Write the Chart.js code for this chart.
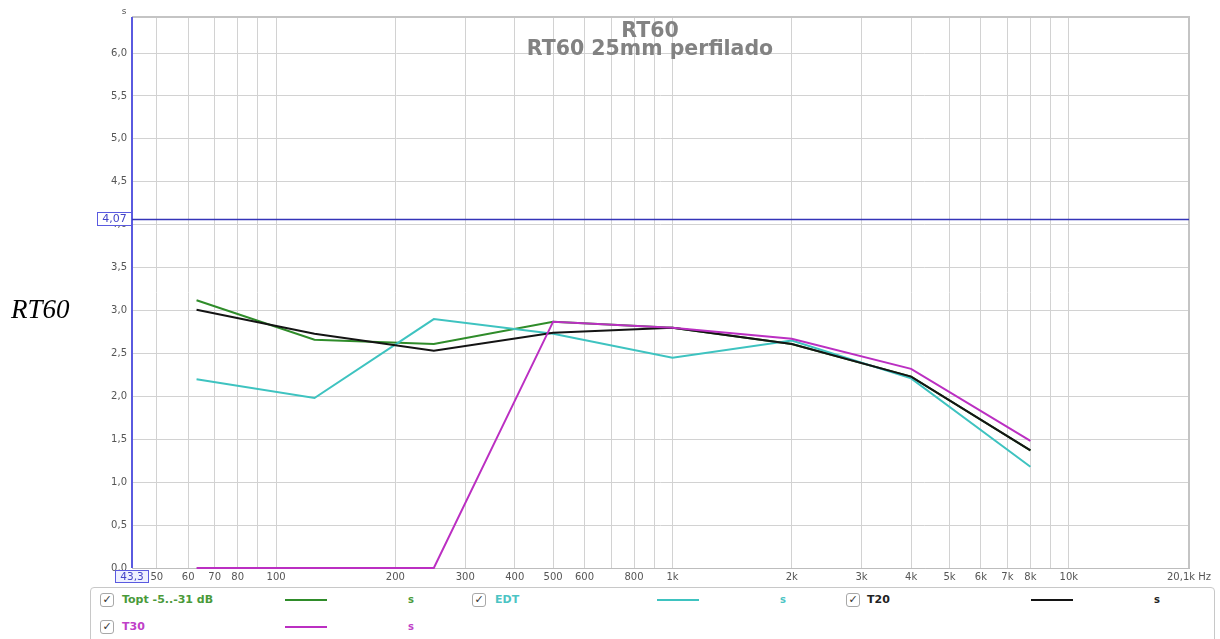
<!DOCTYPE html>
<html>
<head>
<meta charset="utf-8">
<script src="https://cdn.jsdelivr.net/npm/chart.js@4.4.1/dist/chart.umd.min.js"></script>
<style>
  html,body{margin:0;padding:0;background:#fff;}
  body{width:1220px;height:639px;overflow:hidden;position:relative;font-family:"DejaVu Sans",sans-serif;}
  #c{position:absolute;left:0;top:0;}
  #side{position:absolute;left:11px;top:294px;font:italic 27px "Liberation Serif","Times New Roman",serif;color:#000;line-height:30px;}
  #legendBox{position:absolute;left:90px;top:587px;width:1125px;height:70px;border:1px solid #c8c8c8;border-radius:4px;box-sizing:border-box;}
  .cb{position:absolute;width:14px;height:14px;border:1px solid #a8a8a8;border-radius:3px;box-sizing:border-box;font-size:11px;line-height:12px;text-align:center;color:#333;background:#fff;}
  .lt{position:absolute;font-weight:bold;font-size:11px;line-height:14px;white-space:nowrap;}
  .ls{position:absolute;height:2px;}
  .lu{position:absolute;font-weight:bold;font-size:10px;line-height:14px;}
</style>
</head>
<body>
<canvas id="c" width="1220" height="585"></canvas>
<div id="side">RT60</div>
<div id="legendBox"></div>
<div id="legend"></div>
<script>
// ---- data ----
const bandFreqs = [63, 125, 250, 500, 1000, 2000, 4000, 8000];
const toptValues = [3.12, 2.66, 2.61, 2.87, 2.80, 2.61, 2.23, 1.37];
const edtValues  = [2.20, 1.98, 2.90, 2.73, 2.45, 2.65, 2.21, 1.18];
const t20Values  = [3.01, 2.73, 2.53, 2.74, 2.80, 2.61, 2.23, 1.37];
const t30Values  = [0.00, 0.00, 0.00, 2.87, 2.80, 2.67, 2.32, 1.48];

const seriesNames = ["Topt -5..-31 dB", "EDT", "T20", "T30"];
const seriesUnits = ["s", "s", "s", "s"];

const xGridValues = [50,60,70,80,90,100,200,300,400,500,600,700,800,900,1000,2000,3000,4000,5000,6000,7000,8000,9000,10000,20100];
const xLabelValues = [50,60,70,80,100,200,300,400,500,600,800,1000,2000,3000,4000,5000,6000,7000,8000,10000,20100];
const xLabelTexts  = ["50","60","70","80","100","200","300","400","500","600","800","1k","2k","3k","4k","5k","6k","7k","8k","10k","20,1k Hz"];
const yTickValues = [0,0.5,1,1.5,2,2.5,3,3.5,4,4.5,5,5.5,6];

const xMin = 43.3, xMax = 20100, yMin = 0, yMax = 6.42;
const cursorFreq = 43.3, cursorFreqLabel = "43,3";
const cursorValue = 4.07, cursorValueLabel = "4,07";
const titleLines = ["RT60", "RT60 25mm perfilado"];
const yUnit = "s";

// ---- style ----
const colors = ["#2f8c2a", "#3ec3c0", "#141414", "#bb2fc2"];
const textColors = ["#4a9a3a", "#4cc4c4", "#222222", "#c040c8"];

const pts = vals => bandFreqs.map((f,i)=>({x:f, y:vals[i]}));
const allVals = [toptValues, edtValues, t20Values, t30Values];
const drawOrder = [4,3,2,1];

const overlay = {
  id:'overlay',
  beforeDatasetsDraw(chart){
    const ctx = chart.ctx;
    ctx.save();
    ctx.fillStyle = '#828282';
    ctx.font = 'bold 20.5px "DejaVu Sans"';
    ctx.textAlign = 'center';
    ctx.textBaseline = 'alphabetic';
    ctx.fillText(titleLines[0], 650, 37);
    ctx.fillText(titleLines[1], 650, 55);
    ctx.restore();
  },
  afterDraw(chart){
    const {ctx, chartArea:a, scales:{x,y}} = chart;
    ctx.save();
    // top/right frame
    ctx.strokeStyle = '#c4c4c4'; ctx.lineWidth = 2;
    ctx.beginPath(); ctx.moveTo(a.left, a.top); ctx.lineTo(a.right, a.top); ctx.lineTo(a.right, a.bottom); ctx.stroke();
    // vertical cursor line
    const cx = Math.round(x.getPixelForValue(cursorFreq));
    ctx.strokeStyle = '#5a5ae0'; ctx.lineWidth = 2;
    ctx.beginPath(); ctx.moveTo(cx, a.top); ctx.lineTo(cx, a.bottom); ctx.stroke();
    // horizontal cursor line
    const cy = Math.round(y.getPixelForValue(cursorValue)) + 0.5;
    ctx.strokeStyle = '#3434b8'; ctx.lineWidth = 1.5;
    ctx.beginPath(); ctx.moveTo(a.left, cy); ctx.lineTo(a.right, cy); ctx.stroke();
    // value box
    ctx.font = '11px "DejaVu Sans"';
    ctx.textAlign = 'center'; ctx.textBaseline = 'middle';
    ctx.fillStyle = '#ffffff'; ctx.fillRect(97.5, cy-7, 34, 13);
    ctx.strokeStyle = '#5a5ae0'; ctx.lineWidth = 1; ctx.strokeRect(97.5, cy-7, 34, 13);
    ctx.fillStyle = '#4444c8'; ctx.fillText(cursorValueLabel, 114.5, cy);
    // freq box
    ctx.font = '10.5px "DejaVu Sans"';
    ctx.fillStyle = '#eef0ff'; ctx.fillRect(cx-16.5, a.bottom+2.5, 33, 12);
    ctx.strokeStyle = '#5a5ae0'; ctx.strokeRect(cx-16.5, a.bottom+2.5, 33, 12);
    ctx.fillStyle = '#4444c8'; ctx.fillText(cursorFreqLabel, cx, a.bottom+9);
    // unit
    ctx.fillStyle = '#555'; ctx.font = '9px "DejaVu Sans"';
    ctx.fillText(yUnit, a.left-8, 12);
    ctx.restore();
  }
};

new Chart(document.getElementById('c'), {
  type:'line',
  data:{
    datasets: seriesNames.map((n,i)=>({
      label:n, data:pts(allVals[i]), borderColor:colors[i], backgroundColor:colors[i],
      borderWidth:2, pointRadius:0, tension:0, fill:false, clip:6, order:drawOrder[i]
    }))
  },
  options:{
    responsive:false, animation:false,
    layout:{padding:{left:92, right:31, top:17, bottom:0}},
    plugins:{legend:{display:false}, tooltip:{enabled:false}},
    scales:{
      x:{
        type:'logarithmic', min:xMin, max:xMax,
        afterBuildTicks:s=>{ s.ticks = xGridValues.map(v=>({value:v})); },
        afterFit:s=>{ s.height = 17; },
        grid:{color:'#d2d2d2', drawTicks:false, lineWidth:1},
        border:{color:'#bdbdbd', width:1},
        ticks:{autoSkip:false, maxRotation:0, padding:3, color:'#555', font:{family:'DejaVu Sans', size:10},
          callback:(v)=>{ const k = xLabelValues.indexOf(v); return k>=0 ? xLabelTexts[k] : ''; }}
      },
      y:{
        type:'linear', min:yMin, max:yMax,
        afterBuildTicks:s=>{ s.ticks = yTickValues.map(v=>({value:v})); },
        afterFit:s=>{ s.width = 40; },
        grid:{color:'#d2d2d2', drawTicks:false, lineWidth:1},
        border:{display:false},
        ticks:{padding:5, color:'#555', font:{family:'DejaVu Sans', size:10},
          callback:(v)=>Number(v).toFixed(1).replace('.', ',')}
      }
    }
  },
  plugins:[overlay]
});

// ---- HTML legend ----
const legendCols = [
  {cb:100, text:122, line:285, unit:408},
  {cb:472, text:495, line:657, unit:780},
  {cb:846, text:867, line:1031, unit:1154}
];
const rowsY = [600, 627];
const leg = document.getElementById('legend');
seriesNames.forEach((n,i)=>{
  const col = legendCols[i % 3], cyy = rowsY[Math.floor(i/3)];
  const cb = document.createElement('span'); cb.className='cb'; cb.textContent='✓';
  cb.style.left = col.cb+'px'; cb.style.top = (cyy-7)+'px'; leg.appendChild(cb);
  const t = document.createElement('span'); t.className='lt'; t.textContent=n; t.style.color=textColors[i];
  t.style.left = col.text+'px'; t.style.top=(cyy-7)+'px'; leg.appendChild(t);
  const l = document.createElement('span'); l.className='ls'; l.style.background=colors[i];
  l.style.left = col.line+'px'; l.style.width='42px'; l.style.top=(cyy-1)+'px'; leg.appendChild(l);
  const u = document.createElement('span'); u.className='lu'; u.textContent=seriesUnits[i]; u.style.color=textColors[i];
  u.style.left = col.unit+'px'; u.style.top=(cyy-7)+'px'; leg.appendChild(u);
});
</script>
</body>
</html>
